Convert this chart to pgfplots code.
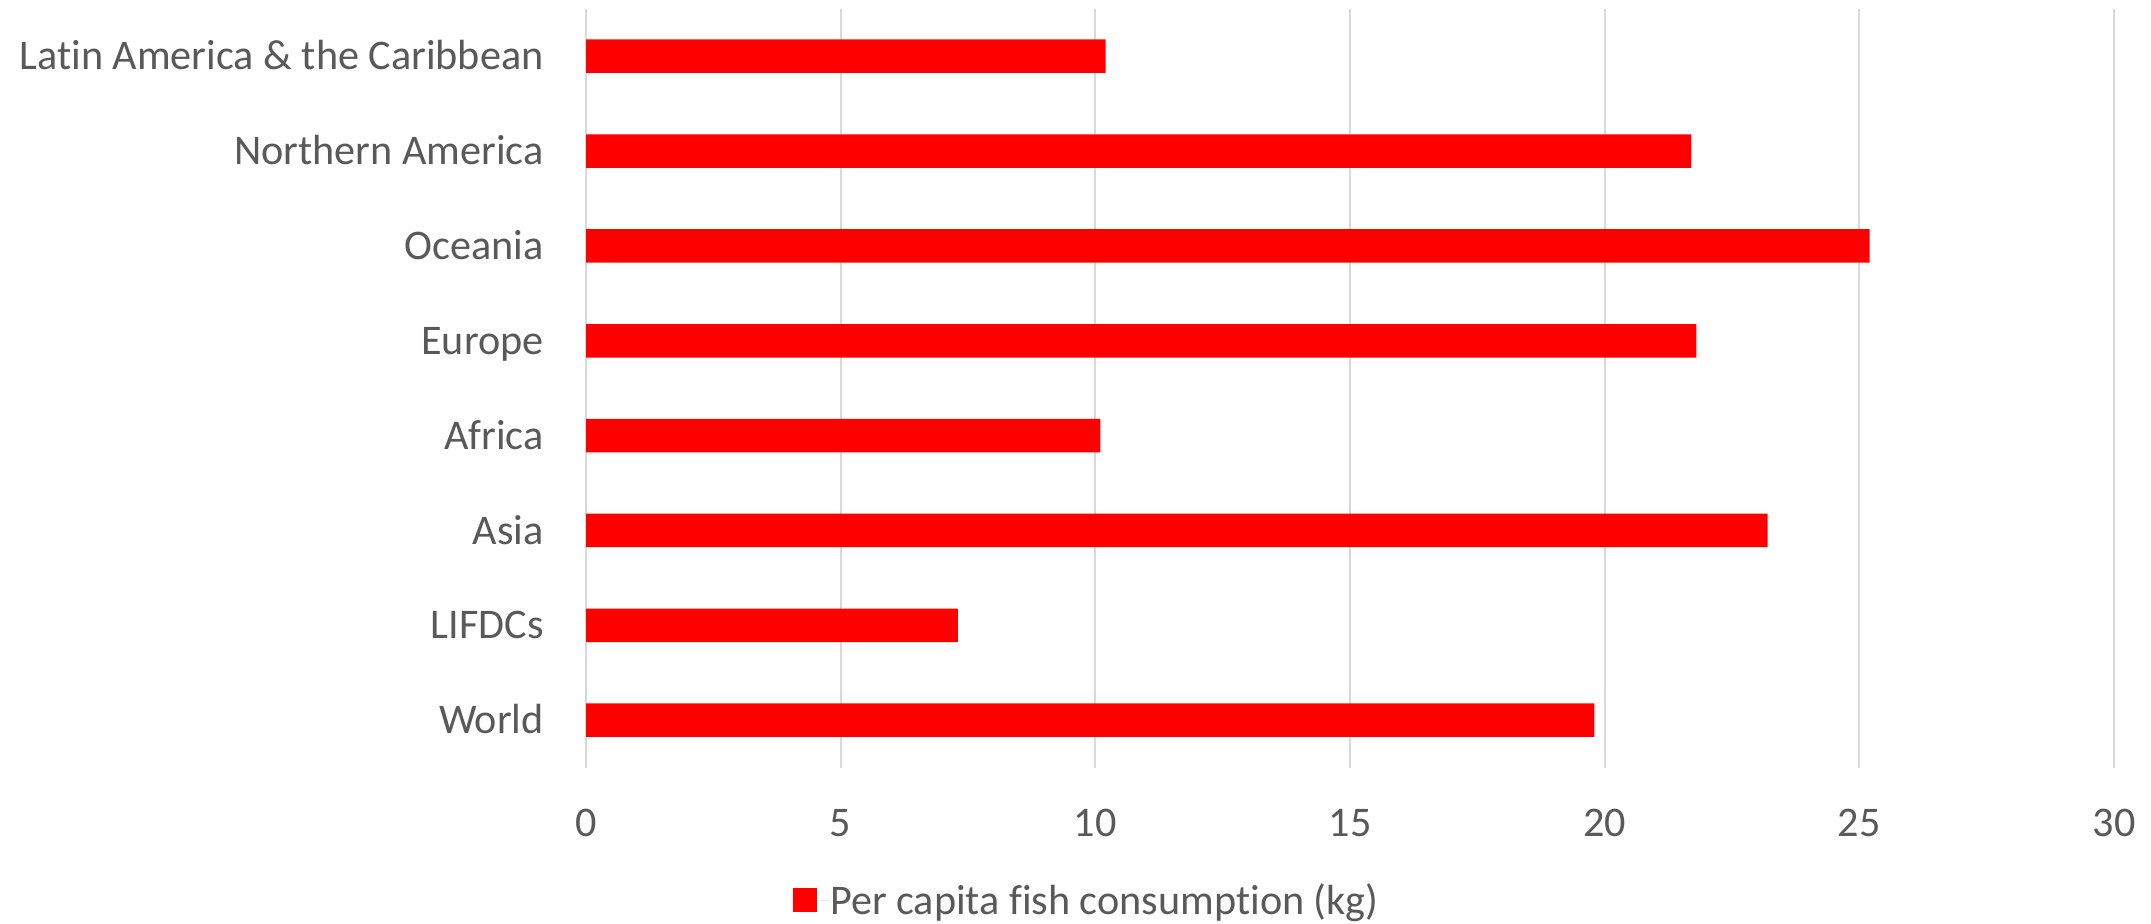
\documentclass[border=0pt]{standalone}
\usepackage{fontspec}
\setmainfont{Carlito}[Ligatures=NoCommon]
\usepackage{pgfplots}
\usepackage{pgfplotstable}
\pgfplotsset{compat=1.18}

\definecolor{barred}{RGB}{255,0,0}
\definecolor{labelgrey}{RGB}{89,89,89}
\definecolor{gridgrey}{RGB}{217,217,217}

% Per capita fish consumption by region (kg), bottom to top
\pgfplotstableread{
idx value
0 19.8
1 7.3
2 23.2
3 10.1
4 21.8
5 25.2
6 21.7
7 10.2
}\consumption

\newcommand{\chartfont}{\fontsize{21.1pt}{24pt}\selectfont}

\begin{document}
\begin{tikzpicture}
\useasboundingbox (0,0) rectangle (1075.5pt,461.5pt);
\begin{axis}[
  at={(293pt,77.7pt)}, anchor=south west,
  scale only axis, width=764pt, height=379.4pt,
  xbar, bar width=16.75pt, bar shift=0pt,
  xmin=0, xmax=30, ymin=-0.5, ymax=7.5,
  xtick={0,5,...,30}, ytick={0,...,7},
  yticklabels={World,LIFDCs,Asia,Africa,Europe,Oceania,Northern America,Latin America \& the Caribbean},
  xmajorgrids, ymajorgrids=false,
  grid style={gridgrey, line width=1pt},
  axis line style={draw=none},
  major tick length=0pt, tick style={draw=none},
  /pgf/number format/assume math mode=true,
  tick label style={font=\chartfont, text=labelgrey, inner sep=0pt},
  xticklabel style={anchor=base, yshift=-34.5pt},
  yticklabel style={anchor=base east, xshift=-21pt, yshift=-6.8pt},
  legend style={at={(0.327,-0.175)}, anchor=center, draw=none, fill=none,
    font=\chartfont, text=labelgrey, inner sep=0pt, nodes={inner sep=0pt}},
  legend image code/.code={
    \fill[barred] (0pt,-6pt) rectangle (12pt,6pt);
    \path (0pt,0pt) -- (18.75pt,0pt);
  },
]
\addplot[fill=barred, draw=none] table[x=value, y=idx] {\consumption};
\addlegendentry{Per capita fish consumption (kg)}
\end{axis}
\end{tikzpicture}
\end{document}
